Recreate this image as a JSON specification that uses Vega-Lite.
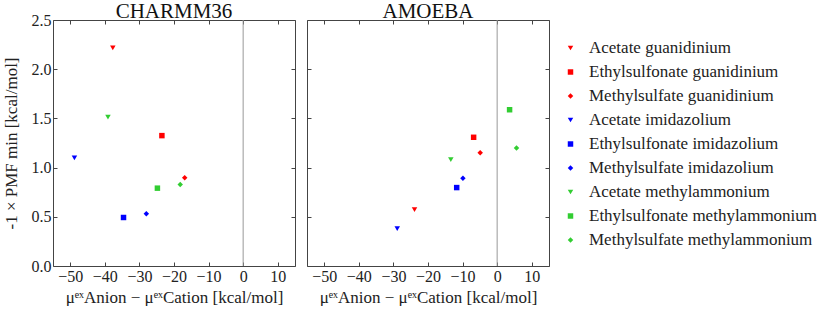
{
  "$schema": "https://vega.github.io/schema/vega-lite/v6.json",
  "padding": {"left": 1, "top": 0, "right": 0, "bottom": 0},
  "config": {
    "font": "Liberation Serif",
    "view": {"stroke": "#444444", "strokeWidth": 1},
    "axis": {"grid": false, "domain": false, "tickColor": "#444444", "tickSize": 4, "offset": -4, "minExtent": 0, "labelColor": "#222222", "titleColor": "#222222", "labelFontSize": 16, "titleFontSize": 17, "titleFontWeight": "normal", "labelPadding": 2},
    "title": {"fontSize": 21, "fontWeight": "normal", "color": "#111111", "offset": -2},
    "legend": {"labelFontSize": 17, "labelColor": "#222222", "labelLimit": 0}
  },
  "datasets": {
    "pts": [
      {"ff": "CHARMM36", "label": "Acetate guanidinium", "x": -37.7, "y": 2.217},
      {"ff": "CHARMM36", "label": "Ethylsulfonate guanidinium", "x": -23.5, "y": 1.325},
      {"ff": "CHARMM36", "label": "Methylsulfate guanidinium", "x": -16.9, "y": 0.896},
      {"ff": "CHARMM36", "label": "Acetate imidazolium", "x": -48.8, "y": 1.098},
      {"ff": "CHARMM36", "label": "Ethylsulfonate imidazolium", "x": -34.6, "y": 0.493},
      {"ff": "CHARMM36", "label": "Methylsulfate imidazolium", "x": -28.0, "y": 0.530},
      {"ff": "CHARMM36", "label": "Acetate methylammonium", "x": -39.1, "y": 1.514},
      {"ff": "CHARMM36", "label": "Ethylsulfonate methylammonium", "x": -24.8, "y": 0.791},
      {"ff": "CHARMM36", "label": "Methylsulfate methylammonium", "x": -18.2, "y": 0.828},
      {"ff": "AMOEBA", "label": "Acetate guanidinium", "x": -23.9, "y": 0.574},
      {"ff": "AMOEBA", "label": "Ethylsulfonate guanidinium", "x": -6.8, "y": 1.308},
      {"ff": "AMOEBA", "label": "Methylsulfate guanidinium", "x": -4.9, "y": 1.152},
      {"ff": "AMOEBA", "label": "Acetate imidazolium", "x": -28.9, "y": 0.381},
      {"ff": "AMOEBA", "label": "Ethylsulfonate imidazolium", "x": -11.7, "y": 0.797},
      {"ff": "AMOEBA", "label": "Methylsulfate imidazolium", "x": -9.9, "y": 0.892},
      {"ff": "AMOEBA", "label": "Acetate methylammonium", "x": -13.4, "y": 1.081},
      {"ff": "AMOEBA", "label": "Ethylsulfonate methylammonium", "x": 3.6, "y": 1.588},
      {"ff": "AMOEBA", "label": "Methylsulfate methylammonium", "x": 5.6, "y": 1.200}
    ],
    "zero": [{"z": 0, "ylo": 0, "yhi": 2.5}]
  },
  "spacing": 10,
  "hconcat": [
    {
      "width": 242, "height": 246,
      "title": {"text": "CHARMM36", "dy": 8},
      "resolve": {"axis": {"x": "independent", "y": "independent"}},
      "layer": [
        {
          "data": {"name": "zero"},
          "mark": {"type": "rule", "color": "#999999", "strokeWidth": 1},
          "encoding": {
            "x": {"field": "z", "type": "quantitative", "scale": {"domain": [-55, 15], "nice": false}, "axis": {"orient": "top", "labels": false, "title": null, "values": [-50, -40, -30, -20, -10, 0, 10]}},
            "y": {"field": "ylo", "type": "quantitative", "scale": {"domain": [0, 2.5], "nice": false}, "axis": {"orient": "right", "labels": false, "title": null, "values": [0, 0.5, 1, 1.5, 2, 2.5]}},
            "y2": {"field": "yhi"}
          }
        },
        {
          "data": {"name": "pts"},
          "transform": [{"filter": "datum.ff === 'CHARMM36'"}],
          "mark": {"type": "point", "filled": true, "size": 30, "opacity": 1},
          "encoding": {
            "x": {"field": "x", "type": "quantitative", "axis": {"orient": "bottom", "values": [-50, -40, -30, -20, -10, 0, 10], "format": "d", "title": "μᵉˣAnion − μᵉˣCation [kcal/mol]", "titlePadding": 5}},
            "y": {"field": "y", "type": "quantitative", "axis": {"orient": "left", "values": [0, 0.5, 1, 1.5, 2, 2.5], "format": ".1f", "title": "-1 × PMF min [kcal/mol]", "titlePadding": 11}},
            "color": {"field": "label", "type": "nominal", "scale": {"domain": ["Acetate guanidinium", "Ethylsulfonate guanidinium", "Methylsulfate guanidinium", "Acetate imidazolium", "Ethylsulfonate imidazolium", "Methylsulfate imidazolium", "Acetate methylammonium", "Ethylsulfonate methylammonium", "Methylsulfate methylammonium"], "range": ["#ff0000", "#ff0000", "#ff0000", "#0000ff", "#0000ff", "#0000ff", "#32cd32", "#32cd32", "#32cd32"]}, "legend": {"title": null, "orient": "none", "legendX": 509, "legendY": 19.5, "labelOffset": 10, "rowPadding": 6, "symbolSize": 30}},
            "shape": {"field": "label", "type": "nominal", "scale": {"domain": ["Acetate guanidinium", "Ethylsulfonate guanidinium", "Methylsulfate guanidinium", "Acetate imidazolium", "Ethylsulfonate imidazolium", "Methylsulfate imidazolium", "Acetate methylammonium", "Ethylsulfonate methylammonium", "Methylsulfate methylammonium"], "range": ["triangle-down", "square", "diamond", "triangle-down", "square", "diamond", "triangle-down", "square", "diamond"]}, "legend": {"title": null, "orient": "none", "legendX": 509, "legendY": 19.5, "labelOffset": 10, "rowPadding": 6, "symbolSize": 30}}
          }
        }
      ]
    },
    {
      "width": 242, "height": 246,
      "title": "AMOEBA",
      "resolve": {"axis": {"x": "independent", "y": "independent"}},
      "layer": [
        {
          "data": {"name": "zero"},
          "mark": {"type": "rule", "color": "#999999", "strokeWidth": 1},
          "encoding": {
            "x": {"field": "z", "type": "quantitative", "scale": {"domain": [-55, 15], "nice": false}, "axis": {"orient": "top", "labels": false, "title": null, "values": [-50, -40, -30, -20, -10, 0, 10]}},
            "y": {"field": "ylo", "type": "quantitative", "scale": {"domain": [0, 2.5], "nice": false}, "axis": {"orient": "right", "labels": false, "title": null, "values": [0, 0.5, 1, 1.5, 2, 2.5]}},
            "y2": {"field": "yhi"}
          }
        },
        {
          "data": {"name": "pts"},
          "transform": [{"filter": "datum.ff === 'AMOEBA'"}],
          "mark": {"type": "point", "filled": true, "size": 30, "opacity": 1},
          "encoding": {
            "x": {"field": "x", "type": "quantitative", "axis": {"orient": "bottom", "values": [-50, -40, -30, -20, -10, 0, 10], "format": "d", "title": "μᵉˣAnion − μᵉˣCation [kcal/mol]", "titlePadding": 5}},
            "y": {"field": "y", "type": "quantitative", "axis": {"orient": "left", "values": [0, 0.5, 1, 1.5, 2, 2.5], "labels": false, "title": null}},
            "color": {"field": "label", "type": "nominal"},
            "shape": {"field": "label", "type": "nominal"}
          }
        }
      ]
    }
  ]
}
